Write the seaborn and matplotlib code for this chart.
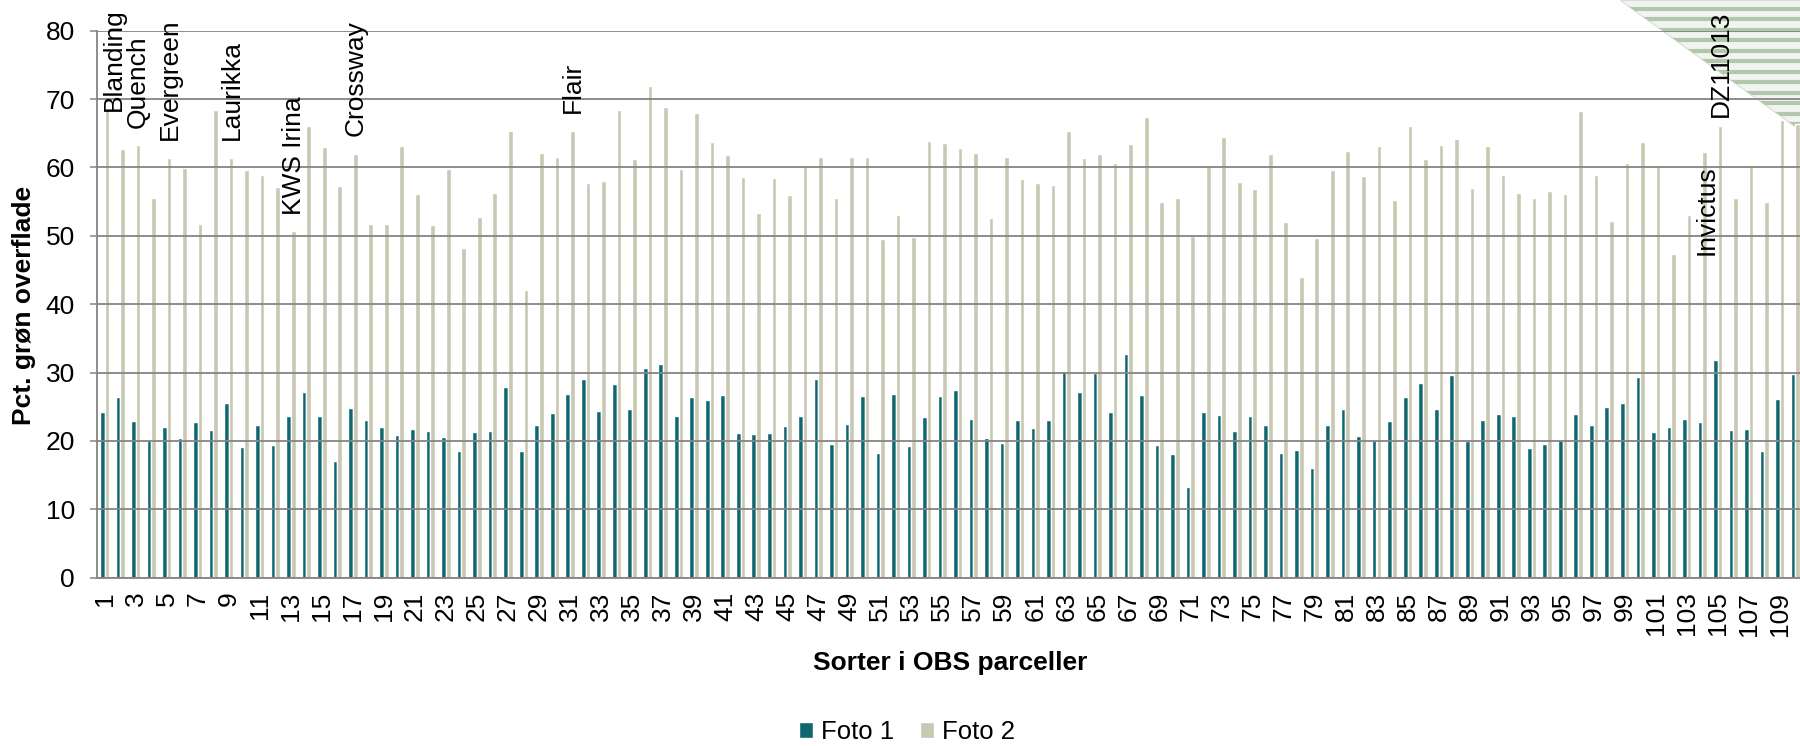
import numpy as np
import pandas as pd
import matplotlib
matplotlib.use("Agg")
import matplotlib.pyplot as plt
from matplotlib.patches import Polygon
import seaborn as sns

# values (110 plots, two photo dates)
foto1 = [24.3, 26.5, 22.9, 20.1, 22.0, 20.4, 22.8, 21.6, 25.5, 19.1,
         22.3, 19.4, 23.7, 27.2, 23.6, 17.1, 24.8, 23.1, 22.1, 20.9,
         21.8, 21.4, 20.6, 18.5, 21.3, 21.5, 27.9, 18.5, 22.3, 24.1,
         26.9, 29.0, 24.4, 28.4, 24.6, 30.6, 31.2, 23.7, 26.5, 26.0,
         26.7, 21.1, 21.0, 21.1, 22.2, 23.7, 29.0, 19.6, 22.5, 26.6,
         18.2, 26.9, 19.2, 23.5, 26.6, 27.5, 23.2, 20.4, 19.7, 23.0,
         21.9, 23.0, 30.3, 27.1, 30.0, 24.2, 32.7, 26.7, 19.4, 18.1,
         13.3, 24.2, 23.8, 21.4, 23.6, 22.3, 18.3, 18.7, 16.1, 22.4,
         24.6, 20.7, 20.1, 22.9, 26.5, 28.5, 24.6, 29.7, 20.0, 23.1,
         23.9, 23.7, 19.0, 19.6, 20.1, 24.0, 22.3, 24.9, 25.6, 29.4,
         21.3, 22.0, 23.2, 22.8, 31.9, 21.6, 21.7, 18.5, 26.1, 29.8]

foto2 = [68.5, 62.7, 63.3, 55.5, 61.4, 59.9, 51.7, 68.4, 61.4, 59.6,
         58.9, 57.1, 50.7, 66.1, 63.0, 57.3, 62.0, 51.7, 51.7, 63.2,
         56.1, 51.6, 59.8, 48.2, 52.7, 56.3, 65.4, 42.1, 62.1, 61.5,
         65.3, 57.7, 58.0, 68.4, 61.3, 71.9, 68.8, 59.8, 67.9, 63.7,
         61.8, 58.6, 53.3, 58.5, 55.9, 60.3, 61.5, 55.6, 61.6, 61.5,
         49.5, 53.1, 49.9, 63.8, 63.6, 62.8, 62.1, 52.6, 61.6, 58.3,
         57.7, 57.4, 65.3, 61.4, 61.9, 60.6, 63.4, 67.4, 54.9, 55.6,
         50.0, 60.2, 64.4, 57.8, 56.8, 61.9, 52.0, 44.0, 49.7, 59.6,
         62.4, 58.7, 63.2, 55.3, 66.1, 61.2, 63.3, 64.2, 57.0, 63.1,
         58.9, 56.3, 55.5, 56.6, 56.1, 68.3, 58.9, 52.2, 60.6, 63.7,
         60.2, 47.3, 53.1, 62.3, 66.1, 55.6, 60.4, 54.9, 66.9, 66.3]

categories = [str(i) for i in range(1, 111)]
series = ["Foto 1", "Foto 2"]

# variety names written above some of the plots
variety_names = ["Blanding", "Quench", "Evergreen", "Laurikka", "KWS Irina",
                 "Crossway", "Flair", "Invictus", "DZ11013"]
variety_x = [0.6, 2.1, 4.2, 8.2, 12.2, 16.2, 30.2, 103.3, 104.2]
variety_y = [68.3, 65.8, 64.0, 64.0, 53.1, 64.6, 68.0, 47.2, 67.4]

teal = "#106770"
beige = "#c9c8b3"
grid_grey = "#858585"

df = pd.DataFrame({
    "sort": categories * 2,
    "serie": [series[0]] * len(foto1) + [series[1]] * len(foto2),
    "value": foto1 + foto2,
})

sns.set_style("white")
plt.rcParams["font.family"] = ["Liberation Sans", "DejaVu Sans"]
plt.rcParams["text.color"] = "black"
plt.rcParams["axes.labelcolor"] = "black"

fig = plt.figure(figsize=(18, 7.46), dpi=100)

# striped corner decoration in the top right (behind the chart)
W, H = 1800, 746
tri = Polygon([(1620 / W, 1), (1, 1), (1, 1 - 130 / H)], closed=True,
              transform=fig.transFigure, facecolor="#f1f5f0", edgecolor="#d8ddd6",
              lw=0.8, zorder=-2)
fig.add_artist(tri)
y = -2
while y < 135:
    ln = plt.Line2D([1600 / W, 1], [1 - y / H, 1 - y / H], transform=fig.transFigure,
                    color="#b3c7ad", lw=3.0, zorder=-1)
    ln.set_clip_path(tri)
    fig.add_artist(ln)
    y += 10.5

ax = fig.add_axes([97 / W, (H - 577.7) / H, 1706 / W, 547 / H])
ax.patch.set_alpha(0)

sns.barplot(data=df, x="sort", y="value", hue="serie", order=categories,
            hue_order=series, palette=[teal, beige], width=0.6,
            errorbar=None, saturation=1, ax=ax, zorder=1)

handles, labels = ax.get_legend_handles_labels()
ax.get_legend().remove()

ax.set_ylim(0, 80)
ax.set_xlim(-0.5, len(categories) - 0.5)
ax.set_yticks(range(0, 81, 10))
ax.set_axisbelow(False)
ax.yaxis.grid(True, color=grid_grey, lw=1.3, zorder=2)

ax.set_xticks(range(0, len(categories), 2))
ax.set_xticklabels(categories[::2], rotation=90)
ax.set_xticks(np.arange(-0.5, len(categories), 1), minor=True)
ax.tick_params(axis="x", which="major", length=0, pad=10, labelsize=19,
               labelcolor="black")
ax.tick_params(axis="x", which="minor", length=5, width=1.1, color=grid_grey)
ax.tick_params(axis="y", length=5, width=1.1, color=grid_grey, pad=11,
               labelsize=19, labelcolor="black", left=True)

for s in ["top", "right"]:
    ax.spines[s].set_visible(False)
for s in ["left", "bottom"]:
    ax.spines[s].set_color(grid_grey)
    ax.spines[s].set_linewidth(1.3)

ax.set_xlabel("Sorter i OBS parceller", fontsize=19, fontweight="bold")
ax.xaxis.set_label_coords(0.5, -0.156)
ax.xaxis.label.set_va("center")
ax.set_ylabel("Pct. grøn overflade", fontsize=19, fontweight="bold")
ax.yaxis.set_label_coords(-0.043, 0.497)
ax.yaxis.label.set_va("center")

for name, xv, yv in zip(variety_names, variety_x, variety_y):
    ax.text(xv, yv, name, rotation=90, ha="center", va="bottom",
            fontsize=19, color="black", zorder=5, clip_on=False)

fig.legend(handles, labels, loc="center", bbox_to_anchor=(907 / W, 14 / H),
           ncol=2, frameon=False, fontsize=18.5, handlelength=0.55,
           handleheight=0.55, handletextpad=0.3, columnspacing=1.0)

fig.savefig("out.png", dpi=100)
